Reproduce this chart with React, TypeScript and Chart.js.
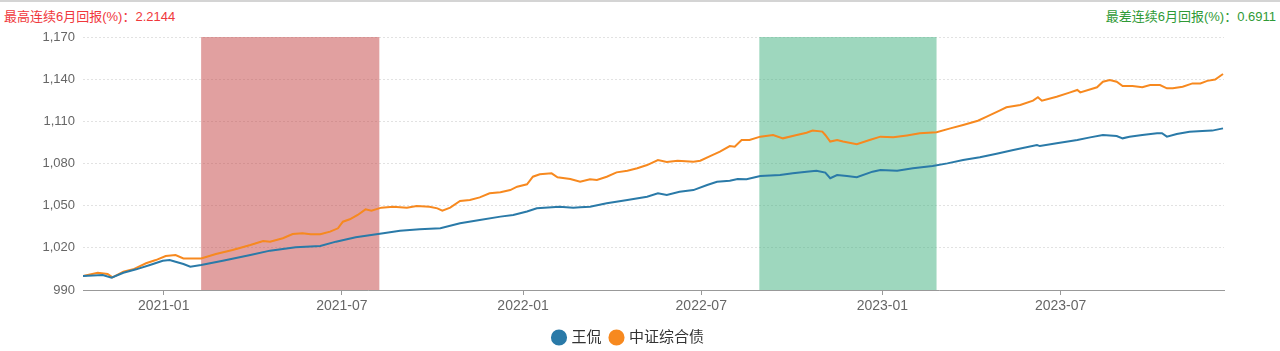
import React, { useEffect, useRef } from 'react';
import { Chart, registerables } from 'chart.js';

Chart.register(...registerables);

// ---------- data ----------
const START_DATE = '2020-10-11';
const X_MAX_DAY = 1159;
const xTickLabels = ['2021-01', '2021-07', '2022-01', '2022-07', '2023-01', '2023-07'];
const yMin = 990;
const yMax = 1170;
const yStep = 30;
const seriesNames = ['王侃', '中证综合债'];
const bestLabel = '最高连续6月回报(%)：2.2144';
const worstLabel = '最差连续6月回报(%)：0.6911';
const bestPeriod = ['2021-02-08', '2021-08-08'];
const worstPeriod = ['2022-08-29', '2023-02-25'];

// days since START_DATE
const wangDays = [
  0, 20, 29, 41, 54, 68, 81, 88, 94, 102, 109, 120, 142, 170, 190, 216, 241, 257, 277, 291, 305,
  322, 342, 363, 383, 403, 424, 437, 451, 461, 484, 498, 505, 515, 532, 553, 573, 584, 593, 606,
  620, 634, 644, 657, 665, 674, 688, 708, 721, 735, 745, 754, 759, 766, 776, 786, 802, 810, 827,
  843, 863, 878, 894, 911, 928, 945, 969, 972, 989, 1010, 1023, 1036, 1050, 1056, 1063, 1076,
  1091, 1096, 1101, 1111, 1124, 1137, 1147, 1158,
];
const wangValues = [
  1000.0, 1000.7, 998.8, 1002.3, 1004.7, 1007.8, 1010.8, 1011.3, 1010.1, 1008.5, 1006.6, 1007.8,
  1010.8, 1014.9, 1018.0, 1020.4, 1021.3, 1024.4, 1027.5, 1028.9, 1030.3,
  1032.2, 1033.2, 1033.9, 1037.5, 1039.8, 1042.2, 1043.4, 1045.8, 1048.1, 1049.3, 1048.6, 1048.9,
  1049.3, 1051.7, 1054.0, 1056.4, 1058.8, 1057.6, 1059.9,
  1061.1, 1064.7, 1067.0, 1067.8, 1069.0, 1068.8, 1071.1, 1071.8, 1073.0, 1074.2, 1074.9, 1073.5,
  1069.5, 1071.8, 1071.1, 1070.2, 1074.2, 1075.4, 1074.9, 1076.6, 1078.2, 1080.1, 1082.5, 1084.4,
  1087.0, 1089.6, 1093.2, 1092.4, 1094.4, 1096.7, 1098.6, 1100.3, 1099.6, 1097.9, 1099.1, 1100.3,
  1101.5, 1101.5, 1099.1, 1101.0, 1102.6, 1103.1, 1103.4, 1105.0,
];
const bondDays = [
  0, 15, 25, 30, 41, 51, 64, 74, 84, 94, 102, 109, 120, 135, 152, 170, 183, 190, 203, 213, 223,
  231, 241, 251, 259, 264, 271, 279, 287, 293, 303,
  315, 329, 339, 352, 360, 365, 373, 383, 393, 403, 413, 424, 434, 441, 451, 457, 464, 476, 482,
  495, 505, 515, 522, 532, 542, 553, 563, 573, 584, 593, 604,
  620, 627, 637, 647, 657, 662, 669, 677, 688, 701, 711, 725, 735, 741, 751, 754, 759, 766, 772,
  786, 799, 810, 823, 837, 850, 867, 881, 894, 909,
  918, 931, 938, 952, 965, 970, 974, 989, 1002, 1010, 1013, 1030, 1036, 1043, 1050, 1056, 1066,
  1076, 1084, 1094, 1101, 1107, 1117, 1127, 1135, 1142, 1150, 1158,
];
const bondValues = [
  1000.0, 1002.3, 1001.4, 999.0, 1003.0, 1004.7, 1009.0, 1011.3, 1014.2, 1014.9, 1012.5, 1012.5,
  1012.5, 1015.6, 1018.5, 1022.0, 1024.9, 1024.4, 1026.8, 1029.8, 1030.3,
  1029.6, 1029.6, 1031.5, 1033.9, 1038.6, 1040.3, 1043.4, 1047.4, 1046.4, 1048.6,
  1049.3, 1048.6, 1049.8, 1049.3, 1048.1, 1046.4, 1048.6, 1053.3, 1054.0, 1055.9, 1058.8, 1059.5,
  1061.1, 1063.5, 1065.2, 1070.6, 1072.3, 1073.0, 1070.2, 1069.0, 1067.0, 1068.8, 1068.3, 1070.6,
  1073.7, 1074.9, 1076.6, 1078.9, 1082.5, 1081.1, 1082.0,
  1081.3, 1082.0, 1085.3, 1088.4, 1092.4, 1092.0, 1096.7, 1096.7, 1099.1, 1100.3, 1097.9, 1100.3,
  1101.9, 1103.4, 1102.7, 1100.3, 1095.6, 1096.7, 1095.6, 1093.7, 1096.7, 1099.1, 1098.6, 1100.0,
  1101.5, 1102.2, 1105.0, 1107.4, 1110.4,
  1113.3, 1117.6, 1120.0, 1121.6, 1124.7, 1127.1, 1124.7, 1127.5, 1130.4, 1132.3, 1130.6, 1134.2,
  1138.2, 1139.4, 1138.2, 1135.1, 1135.1, 1134.2, 1135.8, 1135.8, 1133.5, 1133.5, 1134.6, 1137.0,
  1137.0, 1138.8, 1139.8, 1143.7,
];

// ---------- helpers ----------
const DAY_MS = 86400000;
const dayOf = (s: string) => {
  const full = s.length === 7 ? s + '-01' : s;
  return Math.round((Date.parse(full + 'T00:00:00Z') - Date.parse(START_DATE + 'T00:00:00Z')) / DAY_MS);
};
const zip = (xs: number[], ys: number[]) => xs.map((x, i) => ({ x, y: ys[i] }));

const BLUE = '#2a7aa8';
const ORANGE = '#f7891f';
const FONT = "'Liberation Sans', 'Noto Sans CJK SC', sans-serif";
const LEGEND_SHIFT = 13;

const bandsPlugin = {
  id: 'periodBands',
  afterLayout(chart: any) {
    const lg = chart.legend;
    if (lg) {
      lg.left += LEGEND_SHIFT;
      lg.right += LEGEND_SHIFT;
    }
  },
  beforeDatasetsDraw(chart: any) {
    const { ctx, chartArea, scales } = chart;
    const bands = [
      { range: bestPeriod, color: 'rgba(196, 66, 66, 0.5)' },
      { range: worstPeriod, color: 'rgba(62, 176, 126, 0.5)' },
    ];
    ctx.save();
    bands.forEach((b) => {
      const x1 = scales.x.getPixelForValue(dayOf(b.range[0]));
      const x2 = scales.x.getPixelForValue(dayOf(b.range[1]));
      ctx.fillStyle = b.color;
      ctx.fillRect(x1, chartArea.top, x2 - x1, chartArea.bottom - chartArea.top);
    });
    ctx.restore();
  },
};

export default function App() {
  const canvasRef = useRef<HTMLCanvasElement | null>(null);

  useEffect(() => {
    document.body.style.margin = '0';
    const canvas = canvasRef.current;
    if (!canvas) return;
    const tickDays = xTickLabels.map(dayOf);
    const chart = new Chart(canvas, {
      type: 'line',
      data: {
        datasets: [
          {
            label: seriesNames[0],
            data: zip(wangDays, wangValues),
            borderColor: BLUE,
            backgroundColor: BLUE,
            borderWidth: 2,
            pointRadius: 0,
            tension: 0,
          },
          {
            label: seriesNames[1],
            data: zip(bondDays, bondValues),
            borderColor: ORANGE,
            backgroundColor: ORANGE,
            borderWidth: 2,
            pointRadius: 0,
            tension: 0,
          },
        ],
      },
      options: {
        responsive: false,
        animation: false,
        devicePixelRatio: 1,
        layout: { padding: { top: 37, right: 56, left: 8, bottom: 0 } },
        scales: {
          x: {
            type: 'linear',
            min: 0,
            max: X_MAX_DAY,
            afterBuildTicks: (scale: any) => {
              scale.ticks = tickDays.map((v) => ({ value: v }));
            },
            afterFit: (scale: any) => {
              scale.height = 30;
            },
            ticks: {
              autoSkip: false,
              maxRotation: 0,
              color: '#666',
              font: { family: FONT, size: 14 },
              padding: 3,
              callback: (v: any) => {
                const i = tickDays.indexOf(Number(v));
                return i >= 0 ? xTickLabels[i] : '';
              },
            },
            grid: { drawOnChartArea: false, drawTicks: true, tickLength: 5, color: '#999' },
            border: { display: true, color: '#999' },
          },
          y: {
            min: yMin,
            max: yMax,
            afterFit: (scale: any) => {
              scale.width = 75;
            },
            ticks: {
              stepSize: yStep,
              color: '#666',
              font: { family: FONT, size: 13 },
              padding: 8,
            },
            grid: { color: '#e2e2e2', drawTicks: false },
            border: { display: false, dash: [2, 2] },
          },
        },
        plugins: {
          legend: {
            position: 'bottom',
            labels: {
              usePointStyle: true,
              pointStyle: 'circle',
              boxWidth: 10,
              boxHeight: 10,
              color: '#333',
              font: { family: FONT, size: 15 },
              padding: 10,
            },
          },
          tooltip: { enabled: false },
        },
      },
      plugins: [bandsPlugin],
    } as any);
    return () => chart.destroy();
  }, []);

  return (
    <div style={{ position: 'relative', width: 1280, height: 351, background: '#fff', overflow: 'hidden' }}>
      <div style={{ position: 'absolute', left: 0, top: 0, width: 1280, height: 2, background: '#d4d4d4' }} />
      <div
        style={{
          position: 'absolute', left: 4, top: 6, fontFamily: FONT, fontSize: 13, color: '#f0383c', whiteSpace: 'nowrap',
        }}
      >
        {bestLabel}
      </div>
      <div
        style={{
          position: 'absolute', right: 4, top: 6, fontFamily: FONT, fontSize: 13, color: '#2f9a36', whiteSpace: 'nowrap',
        }}
      >
        {worstLabel}
      </div>
      <canvas ref={canvasRef} width={1280} height={355} style={{ position: 'absolute', left: 0, top: 0 }} />
    </div>
  );
}
